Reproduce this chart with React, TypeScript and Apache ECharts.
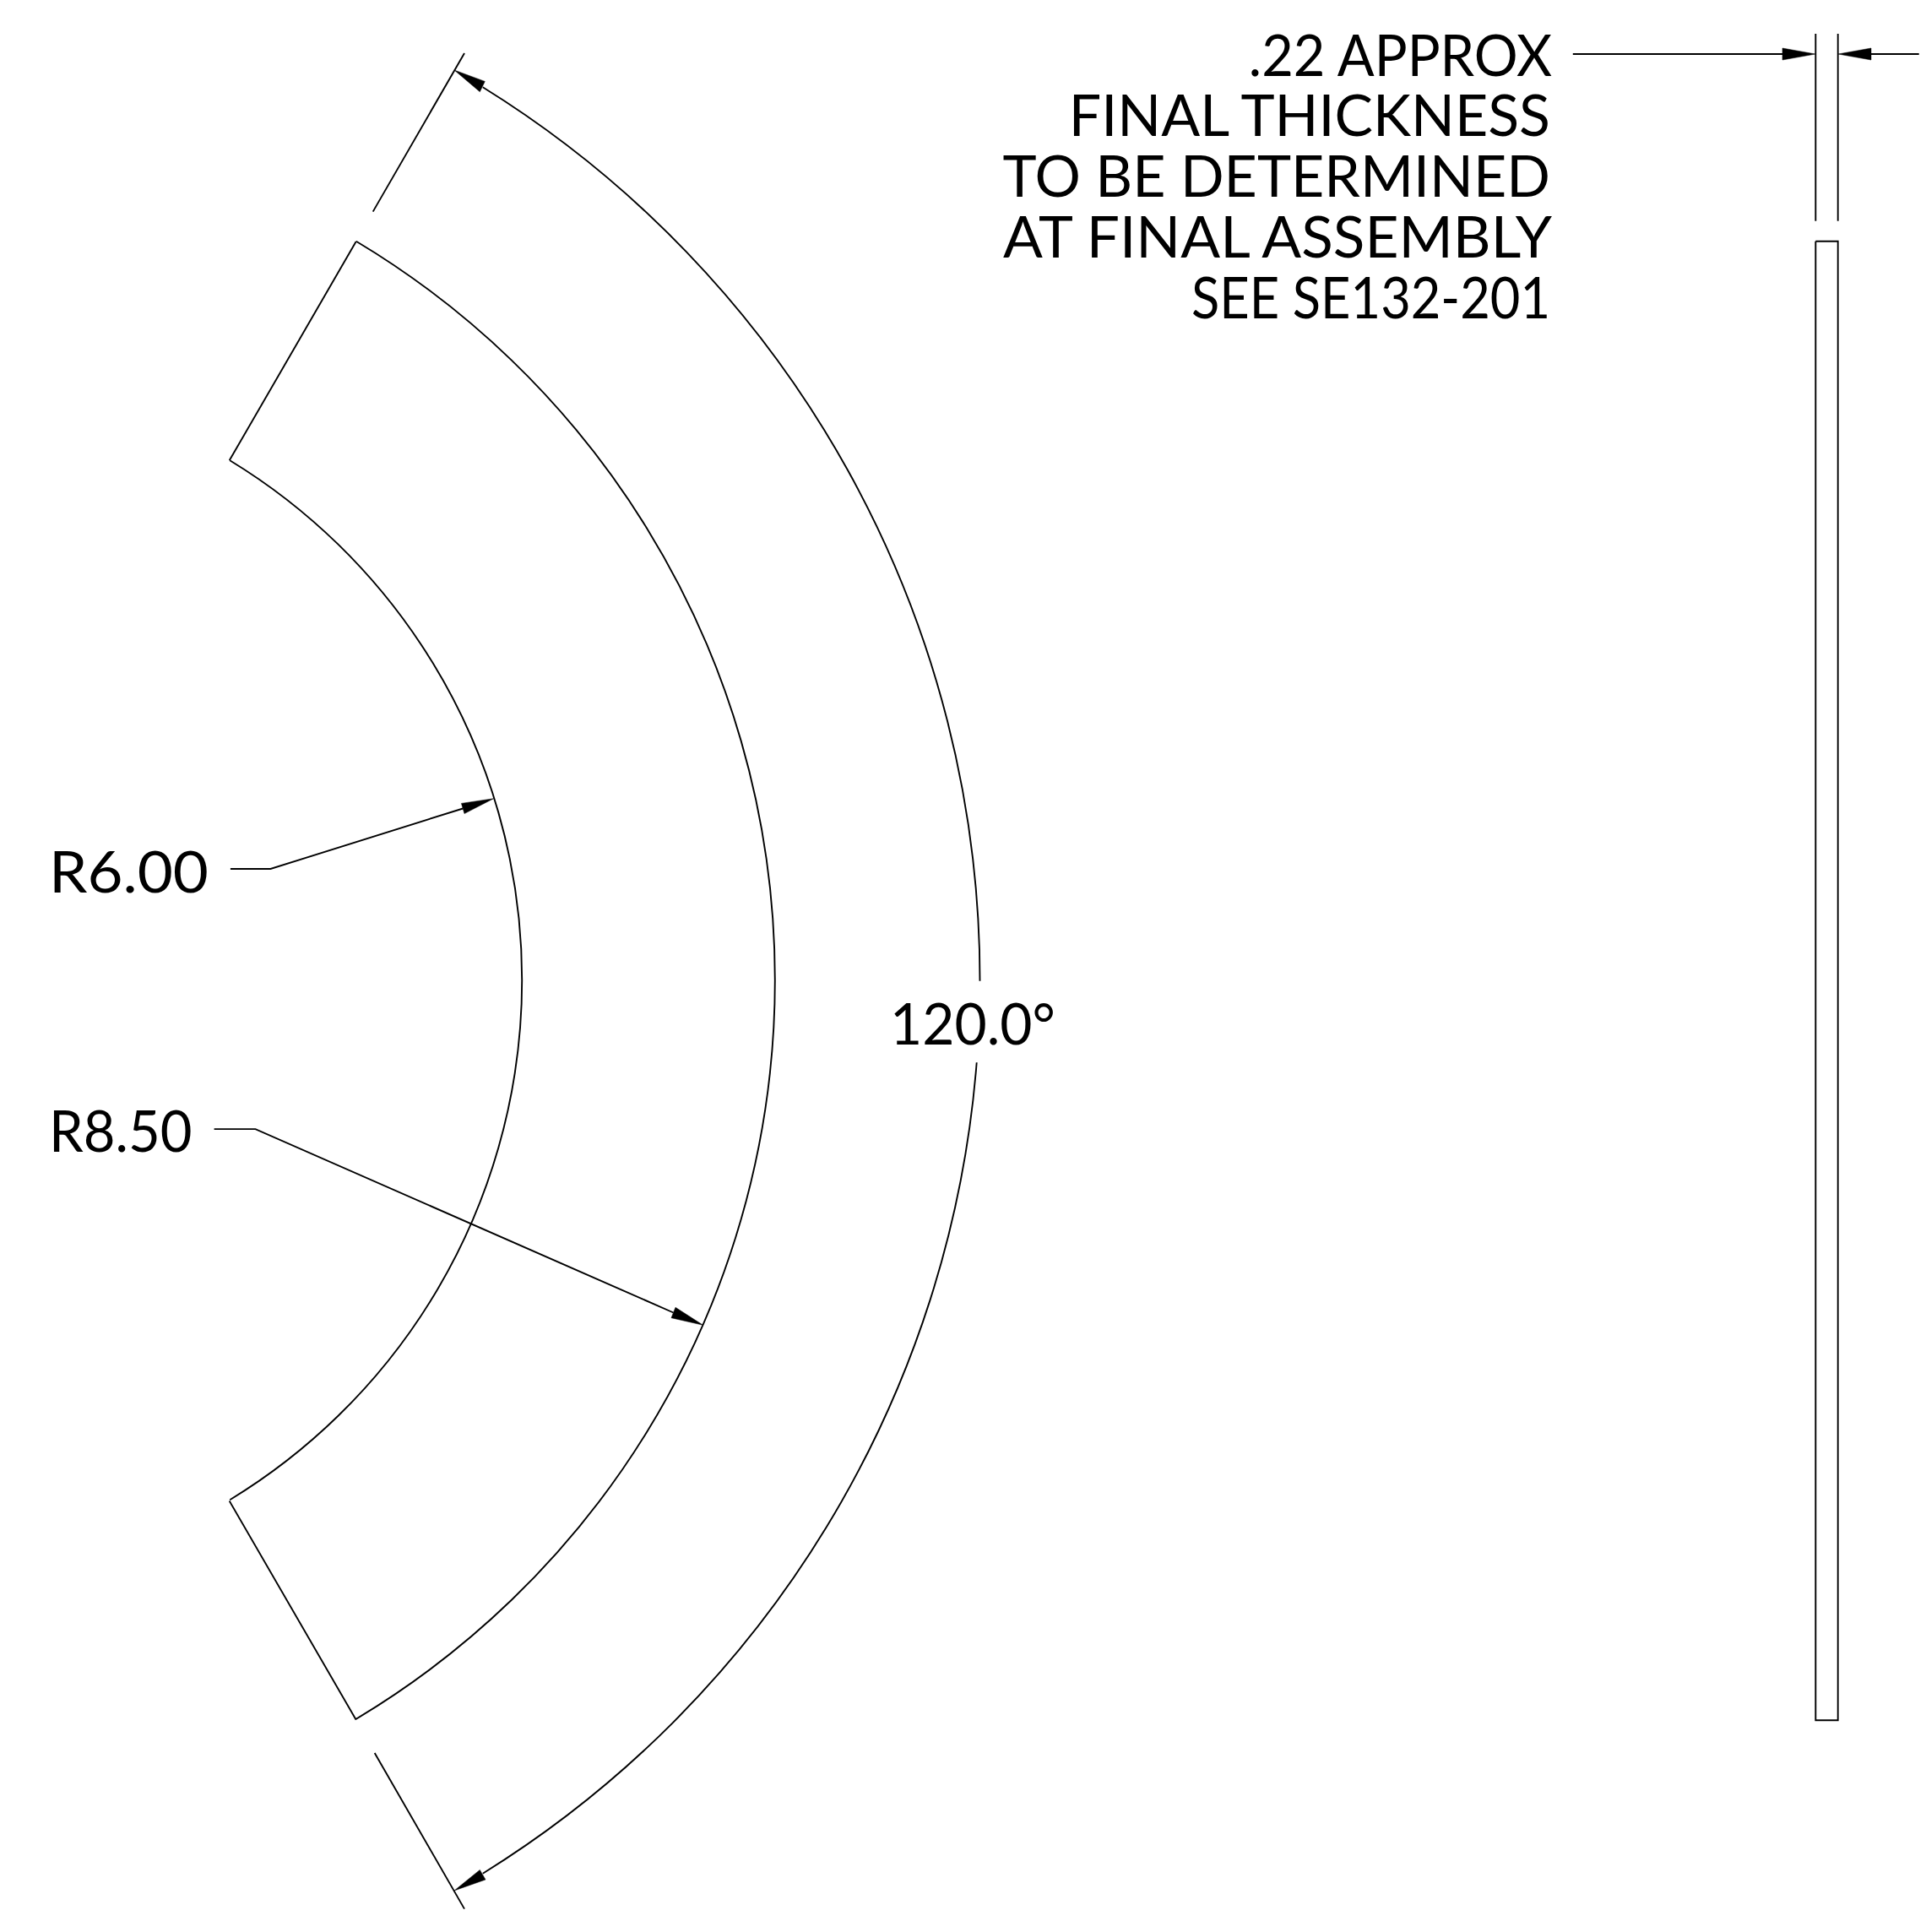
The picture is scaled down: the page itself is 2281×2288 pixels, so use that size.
import React, { useEffect, useRef } from "react";
import * as echarts from "echarts";

const WIDTH = 2281;
const HEIGHT = 2288;
const INK = "#000000";
const STROKE = 1.9;
const FONT = "Lato";

// [centre x, centre y, radius, start deg, end deg]
const partArcInner = [-102.3, 1160.7, 720.5, -58.68, 58.68];
const partArcOuter = [-102, 1160.7, 1019.8, -59.09, 59.09];
const dimArcUpper = [-84, 1161, 1244.5, -58.2, 0.03];
const dimArcLower = [-84, 1161, 1244.5, 4.48, 58.2];
const arcs = [partArcInner, partArcOuter, dimArcUpper, dimArcLower];

const polylines: number[][][] = [
  [[271.7, 545.3], [421.7, 286]],
  [[271.7, 1777.6], [421.7, 2036.7]],
  [[441.7, 250.6], [550, 63]],
  [[443.7, 2076], [550, 2260.6]],
  [[2150.3, 40], [2150.3, 261.7]],
  [[2176.7, 40], [2176.7, 261.7]],
  [[1862.8, 64], [2111, 64]],
  [[2216, 64], [2272.7, 64]],
  [[2150.3, 285.7], [2176.7, 285.7], [2176.7, 2037.3], [2150.3, 2037.3], [2150.3, 285.7]],
  [[272.9, 1029], [320.4, 1029], [548.2, 957.5]],
  [[253.6, 1337.1], [302.5, 1337.1], [797.5, 1554.5]],
];

// [tip x, tip y, base x, base y, base x, base y]
const arrowheads = [
  [538, 83, 574.3, 96.4, 568.3, 108.7],
  [538, 2239, 568.3, 2214.4, 575, 2226],
  [584.6, 945.7, 546.4, 951.4, 550, 963.6],
  [832.7, 1569.3, 800, 1548.3, 795, 1560.7],
  [2150, 64, 2111, 57, 2111, 71],
  [2177, 64, 2216, 57, 2216, 71],
];

const noteLines = [
  ".22 APPROX",
  "FINAL THICKNESS",
  "TO BE DETERMINED",
  "AT FINAL ASSEMBLY",
  "SEE SE132-201",
];
const noteRight = [1838, 1836, 1836, 1838, 1836];
const noteCentre = [63, 134.7, 206.5, 279.2, 350.5];
const noteStretch = [0.954, 1, 1, 1.02, 0.903];
const otherLabels = ["R6.00", "R8.50", "120.0°"];
const otherLeft = [58, 58, 1054];
const otherCentre = [1030.5, 1337.5, 1211];
const otherStretch = [1.068, 0.958, 0.97];

export default function App() {
  const ref = useRef<HTMLDivElement>(null);
  useEffect(() => {
    if (!ref.current) return;
    const chart = echarts.init(ref.current, undefined, { renderer: "svg" });
    const lineSeries = polylines.map((pts) => ({
      type: "line",
      data: pts,
      showSymbol: false,
      symbol: "none",
      clip: false,
      silent: true,
      lineStyle: { color: INK, width: STROKE, cap: "butt", join: "miter" },
    }));
    const textRows = [
      ...noteLines.map((t, i) => ({ text: t, x: noteRight[i], y: noteCentre[i], align: "right", sx: noteStretch[i] })),
      ...otherLabels.map((t, i) => ({ text: t, x: otherLeft[i], y: otherCentre[i], align: "left", sx: otherStretch[i] })),
    ];
    chart.setOption({
      animation: false,
      backgroundColor: "#ffffff",
      grid: { left: 0, right: 0, top: 0, bottom: 0 },
      xAxis: { type: "value", min: 0, max: WIDTH, show: false },
      yAxis: { type: "value", min: 0, max: HEIGHT, inverse: true, show: false },
      series: [
        ...lineSeries,
        {
          type: "custom",
          coordinateSystem: "cartesian2d",
          clip: false,
          silent: true,
          data: arcs,
          encode: { x: 0, y: 1 },
          renderItem: (_p: any, api: any) => {
            const c = api.coord([api.value(0), api.value(1)]);
            const r = api.size([api.value(2), 0])[0];
            return {
              type: "arc",
              shape: {
                cx: c[0],
                cy: c[1],
                r,
                startAngle: (api.value(3) * Math.PI) / 180,
                endAngle: (api.value(4) * Math.PI) / 180,
                clockwise: true,
              },
              style: { fill: "none", stroke: INK, lineWidth: STROKE },
            };
          },
        },
        {
          type: "custom",
          coordinateSystem: "cartesian2d",
          clip: false,
          silent: true,
          data: arrowheads,
          encode: { x: 0, y: 1 },
          renderItem: (_p: any, api: any) => ({
            type: "polygon",
            shape: {
              points: [
                api.coord([api.value(0), api.value(1)]),
                api.coord([api.value(2), api.value(3)]),
                api.coord([api.value(4), api.value(5)]),
              ],
            },
            style: { fill: INK, stroke: INK, lineWidth: 0.5 },
          }),
        },
        {
          type: "custom",
          coordinateSystem: "cartesian2d",
          clip: false,
          silent: true,
          data: textRows.map((r) => [r.x, r.y]),
          encode: { x: 0, y: 1 },
          renderItem: (p: any, api: any) => {
            const row = textRows[p.dataIndex];
            const c = api.coord([api.value(0), api.value(1)]);
            return {
              type: "text",
              x: c[0],
              y: c[1],
              scaleX: row.sx,
              style: {
                text: row.text,
                fill: INK,
                font: `400 68px ${FONT}`,
                textAlign: row.align,
                textVerticalAlign: "middle",
              },
            };
          },
        },
      ],
    });
    return () => chart.dispose();
  }, []);
  return (
    <div
      ref={ref}
      style={{ position: "absolute", left: 0, top: 0, width: WIDTH, height: HEIGHT }}
    />
  );
}
